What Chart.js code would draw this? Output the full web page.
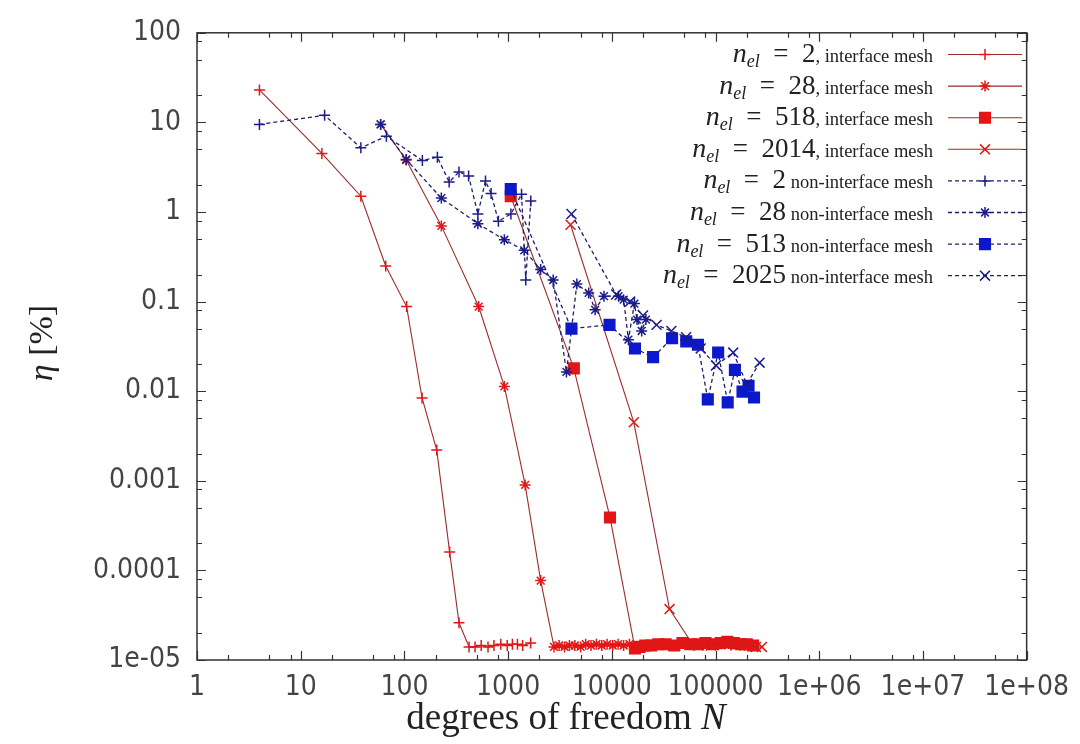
<!DOCTYPE html>
<html><head><meta charset="utf-8">
<script src="https://cdn.jsdelivr.net/npm/chart.js@4.4.1/dist/chart.umd.min.js"></script>
<style>html,body{margin:0;padding:0;background:#fff;}canvas{display:block;}</style>
</head><body>
<canvas id="c" width="1080" height="744"></canvas>
<script>
// ---- data ----
const xTickValues = [1, 10, 100, 1000, 10000, 100000, 1e6, 1e7, 1e8];
const xTickLabels = ['1', '10', '100', '1000', '10000', '100000', '1e+06', '1e+07', '1e+08'];
const yTickValues = [1e-5, 1e-4, 1e-3, 1e-2, 0.1, 1, 10, 100];
const yTickLabels = ['1e-05', '0.0001', '0.001', '0.01', '0.1', '1', '10', '100'];

const legendCounts = ['2', '28', '518', '2014', '2', '28', '513', '2025'];
const legendSuffix = [', interface mesh', ', interface mesh', ', interface mesh', ', interface mesh',
  ' non-interface mesh', ' non-interface mesh', ' non-interface mesh', ' non-interface mesh'];

// n_el = 2, interface mesh
const nA = [4, 16, 38, 66, 105, 148, 205, 273, 336, 420, 480, 550, 640, 730, 850, 980, 1100, 1230, 1380, 1650];
const eA = [23, 4.5, 1.5, 0.25, 0.088, 0.0084, 0.0022, 0.00016, 2.6e-5, 1.4e-5, 1.4e-5, 1.45e-5, 1.4e-5, 1.45e-5, 1.5e-5, 1.45e-5, 1.5e-5, 1.5e-5, 1.45e-5, 1.55e-5];
// n_el = 28, interface mesh
const nB = [59, 104, 227, 520, 920, 1460, 2060, 2770, 3100, 3500, 3900, 4400, 5000, 5600, 6300, 7100, 8000, 9000, 10200, 11500, 13000, 14800];
const eB = [9.5, 3.8, 0.7, 0.088, 0.0113, 0.0009, 7.7e-5, 1.4e-5, 1.45e-5, 1.4e-5, 1.45e-5, 1.45e-5, 1.4e-5, 1.5e-5, 1.45e-5, 1.5e-5, 1.45e-5, 1.5e-5, 1.45e-5, 1.5e-5, 1.45e-5, 1.5e-5];
// n_el = 518, interface mesh
const nC = [1060, 4300, 9600, 16700, 18500, 21000, 24000, 28000, 33000, 40000, 48000, 57000, 68000, 80000, 95000, 112000, 130000, 150000, 175000, 200000, 230000];
const eC = [1.5, 0.018, 0.00039, 1.35e-5, 1.4e-5, 1.45e-5, 1.45e-5, 1.5e-5, 1.5e-5, 1.45e-5, 1.55e-5, 1.5e-5, 1.5e-5, 1.55e-5, 1.5e-5, 1.55e-5, 1.6e-5, 1.55e-5, 1.5e-5, 1.5e-5, 1.45e-5];
// n_el = 2014, interface mesh
const nD = [4000, 16300, 36000, 60000, 68000, 78000, 90000, 103000, 118000, 135000, 155000, 180000, 210000, 245000, 280000];
const eD = [0.72, 0.0045, 3.7e-5, 1.5e-5, 1.45e-5, 1.5e-5, 1.45e-5, 1.5e-5, 1.55e-5, 1.5e-5, 1.45e-5, 1.5e-5, 1.45e-5, 1.4e-5, 1.4e-5];
// n_el = 2, non-interface mesh
const nE = [4, 17, 38, 67, 149, 208, 270, 336, 416, 511, 605, 685, 806, 1064, 1347, 1480, 1653];
const eE = [9.5, 12, 5.2, 7.0, 3.76, 4.09, 2.16, 2.8, 2.52, 0.95, 2.22, 1.61, 0.79, 0.95, 1.58, 0.174, 1.33];
// n_el = 28, non-interface mesh
const nF = [59, 104, 227, 511, 920, 1430, 2060, 2720, 3650, 4600, 5980, 6900, 8400, 11600, 13000, 14450, 16500, 17500, 19400, 21300];
const eF = [9.5, 3.86, 1.43, 0.74, 0.49, 0.373, 0.228, 0.174, 0.0164, 0.157, 0.125, 0.081, 0.115, 0.115, 0.105, 0.0376, 0.095, 0.063, 0.047, 0.063];
// n_el = 513, non-interface mesh
const nG = [1060, 4080, 9500, 16700, 25000, 38100, 52200, 67600, 84200, 106000, 131000, 153700, 182000, 208000, 235000];
const eG = [1.8, 0.05, 0.055, 0.03, 0.024, 0.039, 0.036, 0.033, 0.0081, 0.027, 0.0075, 0.0173, 0.0099, 0.0115, 0.0085];
// n_el = 2025, non-interface mesh
const nH = [4080, 11000, 15000, 20000, 27000, 37500, 52000, 72000, 101000, 148000, 200000, 266000];
const eH = [0.95, 0.12, 0.1, 0.07, 0.055, 0.047, 0.04, 0.03, 0.0194, 0.027, 0.012, 0.0208];

// ---- styles ----
const RED_LINE = '#9c2b2b', RED_PT = '#e21616';
const BLUE_LINE = '#1e1e66', BLUE_PT = '#1c1c8a', BLUE_SQ = '#0c18cc';
const TICK_FONT = '"Liberation Sans Narrow", "DejaVu Sans Condensed", "Liberation Sans", sans-serif';
const SERIF = '"Liberation Serif", "DejaVu Serif", serif';

function pts(xs, ys) { return xs.map((x, i) => ({ x: x, y: ys[i] })); }
function red(xs, ys, style, r, ord) {
  return { data: pts(xs, ys), showLine: true, borderColor: RED_LINE, borderWidth: 1.1,
    pointStyle: style, pointRadius: r, pointBorderColor: RED_PT, pointBackgroundColor: RED_PT,
    pointBorderWidth: 1.5, order: ord };
}
function blue(xs, ys, style, r, ord, fill) {
  return { data: pts(xs, ys), showLine: true, borderColor: BLUE_LINE, borderWidth: 1.3, borderDash: [4, 3],
    pointStyle: style, pointRadius: r, pointBorderColor: fill || BLUE_PT, pointBackgroundColor: fill || BLUE_PT,
    pointBorderWidth: 1.5, order: ord };
}

const datasets = [
  red(nA, eA, 'cross', 5.5, 13),
  red(nB, eB, 'star', 5.5, 12),
  red(nC, eC, 'rect', 7.5, 11),
  red(nD, eD, 'crossRot', 7, 10),
  blue(nE, eE, 'cross', 5.5, 3),
  blue(nF, eF, 'star', 5.5, 2),
  blue(nG, eG, 'rect', 7.5, 1, BLUE_SQ),
  blue(nH, eH, 'crossRot', 7, 0)
];

// ---- plugins ----
const framePlugin = {
  id: 'frame',
  afterDatasetsDraw(chart) {
    const ctx = chart.ctx, a = chart.chartArea, xs = chart.scales.x, ys = chart.scales.y;
    ctx.save();
    ctx.strokeStyle = '#333';
    ctx.lineWidth = 1.5;
    ctx.strokeRect(a.left, a.top, a.right - a.left, a.bottom - a.top);
    ctx.lineWidth = 1.2;
    ctx.beginPath();
    for (let d = 1; d <= 1e8; d *= 10) {
      for (const m of [1, 2, 5, 8]) {
        const v = d * m;
        if (v > 1e8) break;
        const px = Math.round(xs.getPixelForValue(v)) + 0.5;
        const len = m === 1 ? 9 : 5;
        ctx.moveTo(px, a.bottom); ctx.lineTo(px, a.bottom - len);
        ctx.moveTo(px, a.top); ctx.lineTo(px, a.top + len);
      }
    }
    for (let d = 1e-5; d <= 100.0001; d *= 10) {
      for (const m of [1, 2, 5, 8]) {
        const v = d * m;
        if (v > 100.0001) break;
        const py = Math.round(ys.getPixelForValue(v)) + 0.5;
        const len = m === 1 ? 9 : 5;
        ctx.moveTo(a.left, py); ctx.lineTo(a.left + len, py);
        ctx.moveTo(a.right, py); ctx.lineTo(a.right - len, py);
      }
    }
    ctx.stroke();
    ctx.restore();
  }
};

const textPlugin = {
  id: 'texts',
  afterDraw(chart) {
    const ctx = chart.ctx;
    ctx.save();
    ctx.fillStyle = '#222';
    // x-axis title
    ctx.textBaseline = 'alphabetic';
    const f1 = '37px ' + SERIF, f2 = 'italic 37px ' + SERIF;
    ctx.font = f1; const w1 = ctx.measureText('degrees of freedom ').width;
    ctx.font = f2; const w2 = ctx.measureText('N').width;
    let x0 = 566 - (w1 + w2) / 2;
    ctx.font = f1; ctx.textAlign = 'left'; ctx.fillText('degrees of freedom ', x0, 729);
    ctx.font = f2; ctx.fillText('N', x0 + w1, 729);
    // y-axis title
    ctx.save();
    ctx.translate(52, 343);
    ctx.rotate(-Math.PI / 2);
    const g1 = 'italic 34px ' + SERIF, g2 = '34px ' + SERIF;
    ctx.font = g1; const v1 = ctx.measureText('η').width;
    ctx.font = g2; const v2 = ctx.measureText(' [%]').width;
    let y0 = -(v1 + v2) / 2;
    ctx.font = g1; ctx.fillText('η', y0, 0);
    ctx.font = g2; ctx.fillText(' [%]', y0 + v1, 0);
    ctx.restore();

    // legend
    const rightText = 933, lineL = 948, lineR = 1022, mk = 985;
    chart.data.datasets.forEach((ds, i) => {
      const yc = 54 + i * 31.6;
      const segs = [
        { t: 'n', f: 'italic 28px ' + SERIF, dy: 0 },
        { t: 'el', f: 'italic 18px ' + SERIF, dy: 5 },
        { t: '  =  ' + legendCounts[i], f: '27px ' + SERIF, dy: 0 },
        { t: legendSuffix[i], f: '18.5px ' + SERIF, dy: 0 }
      ];
      let total = 0;
      segs.forEach(s => { ctx.font = s.f; s.w = ctx.measureText(s.t).width; total += s.w; });
      let x = rightText - total;
      ctx.fillStyle = '#222';
      ctx.textAlign = 'left';
      segs.forEach(s => { ctx.font = s.f; ctx.fillText(s.t, x, yc + 8 + s.dy); x += s.w; });
      // sample line
      ctx.save();
      ctx.strokeStyle = ds.borderColor;
      ctx.lineWidth = ds.borderWidth;
      ctx.setLineDash(ds.borderDash || []);
      ctx.beginPath(); ctx.moveTo(lineL, yc + 0.5); ctx.lineTo(lineR, yc + 0.5); ctx.stroke();
      ctx.setLineDash([]);
      ctx.strokeStyle = ds.pointBorderColor;
      ctx.fillStyle = ds.pointBackgroundColor;
      ctx.lineWidth = ds.pointBorderWidth;
      Chart.helpers.drawPoint(ctx, { pointStyle: ds.pointStyle, radius: ds.pointRadius, rotation: 0, borderWidth: ds.pointBorderWidth }, mk, yc + 0.5);
      ctx.restore();
    });
    ctx.restore();
  }
};

new Chart(document.getElementById('c'), {
  type: 'scatter',
  data: { datasets: datasets },
  options: {
    responsive: false,
    animation: false,
    devicePixelRatio: 1,
    layout: { padding: { left: 0, right: 47, top: 27, bottom: 0 } },
    plugins: { legend: { display: false }, tooltip: { enabled: false } },
    elements: { line: { tension: 0 } },
    scales: {
      x: {
        type: 'logarithmic', min: 1, max: 1e8, position: 'bottom',
        grid: { display: false, drawTicks: false }, border: { display: false },
        afterBuildTicks: s => { s.ticks = xTickValues.map(v => ({ value: v, major: true })); },
        afterFit: s => { s.height = 84; },
        ticks: { autoSkip: false, maxRotation: 0, minRotation: 0, padding: 11, color: '#444',
          font: { family: TICK_FONT, size: 28 },
          callback: (v, i) => xTickLabels[i] }
      },
      y: {
        type: 'logarithmic', min: 1e-5, max: 100, position: 'left',
        grid: { display: false, drawTicks: false }, border: { display: false },
        afterBuildTicks: s => { s.ticks = yTickValues.map(v => ({ value: v, major: true })); },
        afterFit: s => { s.width = 197; },
        ticks: { autoSkip: false, padding: 16, color: '#444',
          font: { family: TICK_FONT, size: 28 },
          callback: (v, i) => yTickLabels[i] }
      }
    }
  },
  plugins: [framePlugin, textPlugin]
});
</script>
</body></html>
